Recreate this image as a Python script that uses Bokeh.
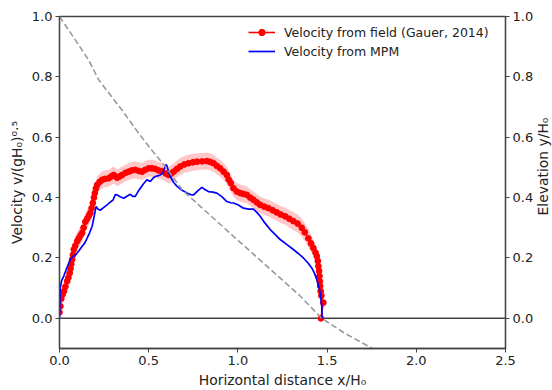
import math
import numpy as np
from bokeh.plotting import figure
from bokeh.models import (Range1d, LinearAxis, FixedTicker, NumeralTickFormatter,
                          Span, Legend, LegendItem, Label)
from bokeh.embed import file_html
from bokeh.resources import INLINE

# ---- Data ----
field_x = [0.000, 0.005, 0.010, 0.018, 0.025, 0.033, 0.043, 0.050, 0.057, 0.062,
           0.066, 0.071, 0.075, 0.080, 0.088, 0.099, 0.108, 0.118, 0.127, 0.135,
           0.145, 0.155, 0.165, 0.173, 0.180, 0.187, 0.193, 0.198, 0.204, 0.211,
           0.225, 0.239, 0.255, 0.276, 0.290, 0.304, 0.323, 0.337, 0.351, 0.370,
           0.388, 0.405, 0.425, 0.445, 0.463, 0.480, 0.500, 0.518, 0.537, 0.556,
           0.575, 0.595, 0.612, 0.627, 0.640, 0.658, 0.677, 0.700, 0.724, 0.748,
           0.771, 0.800, 0.827, 0.845, 0.863, 0.882, 0.901, 0.920, 0.938, 0.948,
           0.960, 0.975, 0.994, 1.013, 1.031, 1.050, 1.069, 1.087, 1.106, 1.125,
           1.148, 1.171, 1.195, 1.218, 1.240, 1.265, 1.288, 1.311, 1.335, 1.358,
           1.375, 1.395, 1.410, 1.423, 1.435, 1.442, 1.448, 1.451, 1.455, 1.457,
           1.459, 1.461, 1.464, 1.468, 1.479, 1.465]
field_v = [0.020, 0.040, 0.065, 0.080, 0.090, 0.105, 0.123, 0.135, 0.150, 0.165,
           0.180, 0.195, 0.210, 0.228, 0.240, 0.255, 0.265, 0.275, 0.283, 0.300,
           0.320, 0.330, 0.340, 0.349, 0.365, 0.382, 0.400, 0.415, 0.430, 0.442,
           0.452, 0.459, 0.462, 0.464, 0.470, 0.475, 0.466, 0.470, 0.475, 0.482,
           0.486, 0.490, 0.492, 0.488, 0.486, 0.492, 0.497, 0.497, 0.495, 0.490,
           0.488, 0.480, 0.475, 0.480, 0.486, 0.495, 0.503, 0.510, 0.514, 0.517,
           0.519, 0.520, 0.521, 0.518, 0.514, 0.505, 0.497, 0.486, 0.475, 0.460,
           0.448, 0.431, 0.420, 0.415, 0.412, 0.409, 0.400, 0.393, 0.384, 0.376,
           0.370, 0.365, 0.358, 0.351, 0.344, 0.338, 0.330, 0.322, 0.314, 0.300,
           0.285, 0.265, 0.248, 0.233, 0.218, 0.206, 0.190, 0.173, 0.157, 0.140,
           0.123, 0.107, 0.090, 0.075, 0.052, 0.000]
field_err = [0.010, 0.015, 0.020, 0.025, 0.030, 0.030, 0.030, 0.030, 0.030, 0.030,
             0.030, 0.030, 0.030, 0.030, 0.030, 0.030, 0.030, 0.030, 0.030, 0.030,
             0.030, 0.030, 0.030, 0.030, 0.030, 0.030, 0.030, 0.030, 0.028, 0.028,
             0.028, 0.028, 0.028, 0.028, 0.028, 0.028, 0.028, 0.028, 0.028, 0.028,
             0.028, 0.028, 0.028, 0.028, 0.028, 0.028, 0.028, 0.028, 0.028, 0.028,
             0.028, 0.028, 0.028, 0.028, 0.028, 0.028, 0.028, 0.028, 0.028, 0.028,
             0.028, 0.028, 0.028, 0.028, 0.028, 0.028, 0.028, 0.028, 0.028, 0.028,
             0.028, 0.028, 0.028, 0.028, 0.028, 0.028, 0.028, 0.028, 0.028, 0.028,
             0.028, 0.028, 0.028, 0.028, 0.028, 0.028, 0.030, 0.030, 0.030, 0.030,
             0.030, 0.030, 0.028, 0.026, 0.024, 0.022, 0.019, 0.016, 0.013, 0.011,
             0.010, 0.008, 0.006, 0.005, 0.005, 0.004]

mpm_x = [0.000, 0.002, 0.004, 0.012, 0.024, 0.040, 0.060, 0.075, 0.090, 0.110,
         0.127, 0.142, 0.155, 0.170, 0.183, 0.195, 0.205, 0.215, 0.229, 0.245,
         0.265, 0.285, 0.300, 0.313, 0.323, 0.340, 0.360, 0.380, 0.397, 0.410,
         0.425, 0.440, 0.453, 0.470, 0.490, 0.509, 0.525, 0.537, 0.550, 0.565,
         0.580, 0.590, 0.599, 0.610, 0.621, 0.640, 0.659, 0.685, 0.714, 0.735,
         0.752, 0.775, 0.798, 0.817, 0.835, 0.860, 0.882, 0.910, 0.938, 0.960,
         0.975, 1.000, 1.031, 1.060, 1.087, 1.105, 1.125, 1.150, 1.181, 1.210,
         1.237, 1.275, 1.311, 1.340, 1.367, 1.392, 1.414, 1.430, 1.442, 1.453,
         1.461, 1.466, 1.470, 1.471, 1.472]
mpm_v = [0.000, 0.050, 0.100, 0.125, 0.140, 0.165, 0.195, 0.205, 0.210, 0.225,
         0.239, 0.250, 0.266, 0.285, 0.305, 0.340, 0.371, 0.362, 0.358, 0.366,
         0.375, 0.385, 0.392, 0.410, 0.409, 0.403, 0.398, 0.405, 0.411, 0.404,
         0.404, 0.420, 0.431, 0.445, 0.459, 0.453, 0.465, 0.470, 0.472, 0.475,
         0.482, 0.500, 0.510, 0.490, 0.470, 0.450, 0.437, 0.425, 0.415, 0.410,
         0.409, 0.422, 0.434, 0.426, 0.420, 0.418, 0.415, 0.403, 0.387, 0.383,
         0.382, 0.376, 0.365, 0.362, 0.362, 0.352, 0.338, 0.317, 0.294, 0.277,
         0.261, 0.244, 0.228, 0.214, 0.200, 0.184, 0.167, 0.148, 0.129, 0.105,
         0.085, 0.060, 0.041, 0.020, 0.000]

elev_x = [0.000, 0.080, 0.164, 0.220, 0.350, 0.444, 0.520, 0.593, 0.687, 0.789,
          0.975, 1.162, 1.349, 1.470, 1.600, 1.770]
elev_y = [1.000, 0.930, 0.855, 0.790, 0.690, 0.613, 0.555, 0.503, 0.426, 0.371,
          0.272, 0.173, 0.074, 0.000, -0.050, -0.105]

x_ticks = [0.0, 0.5, 1.0, 1.5, 2.0, 2.5]
y_ticks = [0.0, 0.2, 0.4, 0.6, 0.8, 1.0]

FONT = "DejaVu Sans"
AX = "#444444"
TXT = "#222222"

p = figure(width=552, height=390, output_backend="svg", toolbar_location=None,
           x_range=Range1d(0, 2.5), y_range=Range1d(-0.1, 1.0),
           min_border_left=59, min_border_right=46, min_border_top=16,
           min_border_bottom=41, background_fill_color="white",
           border_fill_color="white")
p.extra_y_ranges = {"elev": Range1d(-0.1, 1.0)}
p.grid.visible = False
p.outline_line_color = AX
p.outline_line_width = 1.3
p.outline_line_alpha = 1.0

right_axis = LinearAxis(y_range_name="elev")
p.add_layout(right_axis, "right")

p.xaxis.axis_label = "Horizontal distance x/H\u2080"
p.yaxis[0].axis_label = "Velocity v/(gH\u2080)\u2070\u00b7\u2075"

for ax in p.xaxis:
    ax.ticker = FixedTicker(ticks=x_ticks)
for ax in p.yaxis:
    ax.ticker = FixedTicker(ticks=y_ticks)
for ax in p.xaxis + p.yaxis:
    ax.formatter = NumeralTickFormatter(format="0.0")
    ax.axis_line_color = AX
    ax.axis_line_width = 1.3
    ax.major_tick_line_color = AX
    ax.major_tick_line_width = 1.0
    ax.major_tick_out = 4
    ax.major_tick_in = 0
    ax.minor_tick_out = 0
    ax.minor_tick_in = 0
    ax.major_label_standoff = 3
    ax.major_label_text_font = FONT
    ax.major_label_text_font_size = "13px"
    ax.major_label_text_color = TXT
    ax.axis_label_text_font = FONT
    ax.axis_label_text_font_size = "13.9px"
    ax.axis_label_text_font_style = "normal"
    ax.axis_label_text_color = TXT
    ax.axis_label_standoff = 4

right_axis.major_label_standoff = 3

# right-hand axis title, reading bottom to top like the left one
right_title = Label(x=-2, x_units="screen", y=182, y_units="screen",
                    text="Elevation y/H\u2080", angle=math.pi / 2,
                    text_align="center", text_baseline="top",
                    text_font=FONT, text_font_size="13.9px", text_color=TXT)
p.add_layout(right_title, "right")

zero = Span(location=0, dimension="width", line_color=AX, line_width=1.6,
            level="underlay")
p.add_layout(zero)

fx = np.array(field_x)
fv = np.array(field_v)
fe = np.array(field_err)
p.varea(x=fx, y1=fv - fe, y2=fv + fe, fill_color="#ff0000", fill_alpha=0.22)
red_line = p.line(field_x, field_v, line_color="#ff0000", line_width=1.6)
red_pts = p.scatter(field_x, field_v, size=5.8, fill_color="#ff0000",
                    line_color="#ff0000")
blue_line = p.line(mpm_x, mpm_v, line_color="#0000ff", line_width=1.7)
p.line(elev_x, elev_y, y_range_name="elev", line_color="#999999",
       line_width=1.6, line_dash="6 3")

legend = Legend(items=[
    LegendItem(label="Velocity from field (Gauer, 2014)", renderers=[red_line, red_pts]),
    LegendItem(label="Velocity from MPM", renderers=[blue_line]),
], location=(189, 289))
legend.label_text_font = FONT
legend.label_text_font_size = "12.5px"
legend.label_text_color = TXT
legend.glyph_width = 27
legend.glyph_height = 16
legend.label_height = 16
legend.spacing = 3
legend.padding = 5
legend.margin = 0
legend.label_standoff = 9
legend.border_line_color = None
legend.background_fill_alpha = 0
p.add_layout(legend)

open("out.html", "w").write(file_html(p, INLINE))
